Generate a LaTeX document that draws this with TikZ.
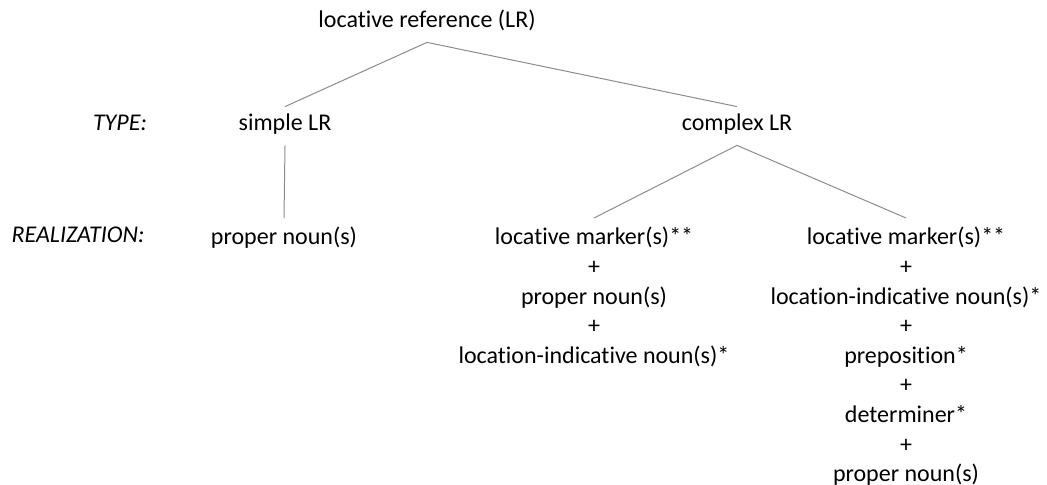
\documentclass[tikz,border=0pt]{standalone}
\usepackage{fontspec}
\setmainfont{Carlito}[Ligatures=NoCommon]

\begin{document}
\begin{tikzpicture}[x=0.5pt, y=-0.5pt,
	every node/.style={font=\fontsize{12}{14.8}\selectfont},
	branch/.style={draw=black!45, line width=0.5pt},
	tier/.style={inner xsep=0pt, inner ysep=4.5pt, text height=0.75em, text depth=0.25em},
	cell/.style={anchor=north, align=center, inner xsep=0pt, inner ysep=4.5pt}]
			%%%%% START %%%%%
			
			\useasboundingbox (0, 0) rectangle (1047, 485);
			
			\node[tier] (root) at (427, 23) {locative reference (LR)};
			
			\node[tier] (type) at (120, 126) {\textit{TYPE:}};
			\node[tier] (simple) at (285, 126) {simple LR};
			\node[tier] (complex) at (737, 126) {complex LR};
			
			\node[cell] (realiz) at (78, 218) {\textit{REALIZATION:}};
			\node[cell] (propn) at (284, 218) {proper noun(s)};
			\node[cell] (midcol) at (594, 218) {locative marker(s)**\\+\\proper noun(s)\\+\\location-indicative noun(s)*};
			\node[cell] (rightcol) at (906, 218) {locative marker(s)**\\+\\location-indicative noun(s)*\\+\\preposition*\\+\\determiner*\\+\\proper noun(s)};
			
			\draw[branch] (simple.north) -- (root.south) -- (complex.north);
			\draw[branch] (simple.south) -- (propn.north);
			\draw[branch] (midcol.north) -- (complex.south) -- (rightcol.north);
			
			%%%%% END %%%%%
		\end{tikzpicture}
\end{document}
